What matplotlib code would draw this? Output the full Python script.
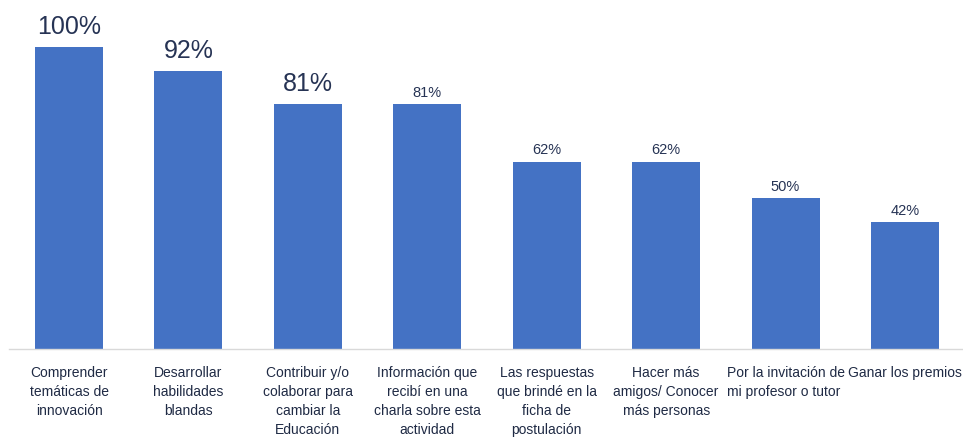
"""Motivos de participación: gráfico de barras con porcentajes."""

import matplotlib
matplotlib.use("Agg")
import matplotlib.pyplot as plt

CATEGORIES = [
    "Comprender\ntemáticas de\ninnovación",
    "Desarrollar\nhabilidades\nblandas",
    "Contribuir y/o\ncolaborar para\ncambiar la\nEducación",
    "Información que\nrecibí en una\ncharla sobre esta\nactividad",
    "Las respuestas\nque brindé en la\nficha de\npostulación",
    "Hacer más\namigos/ Conocer\nmás personas",
    "Por la invitación de\nmi profesor o tutor",
    "Ganar los premios",
]
VALUES = [100, 92, 81, 81, 62, 62, 50, 42]
LABEL_SIZES = [18, 18, 18, 10.5, 10.5, 10.5, 10.5, 10.5]

BAR_COLOR = "#4472C4"
TEXT_COLOR = "#1F2A44"
LABEL_COLOR = "#263354"

plt.rcParams["font.family"] = ["Liberation Sans", "DejaVu Sans"]

fig = plt.figure(figsize=(9.63, 4.39), dpi=100)
ax = fig.add_axes([9.3 / 963, 89 / 439, 955.4 / 963, 302 / 439])

x = list(range(len(VALUES)))
bars = ax.bar(x, VALUES, width=0.57, color=BAR_COLOR, zorder=2)

for rect, val, size in zip(bars, VALUES, LABEL_SIZES):
    offset = 10.0 if size > 12 else 6.0
    ax.annotate(
        f"{val}%",
        xy=(rect.get_x() + rect.get_width() / 2, val),
        xytext=(0, offset),
        textcoords="offset points",
        ha="center",
        va="baseline",
        fontsize=size,
        color=LABEL_COLOR,
        annotation_clip=False,
    )

ax.set_xlim(-0.5, len(VALUES) - 0.5)
ax.set_ylim(0, 100)
ax.set_xticks(x)
ax.set_xticklabels(CATEGORIES, fontsize=10.0, color=TEXT_COLOR, linespacing=1.47)
for i, lbl in enumerate(ax.get_xticklabels()):
    lbl.set_multialignment("left" if i == 6 else "center")
ax.tick_params(axis="x", length=0, pad=11.5)
ax.set_yticks([])

for side in ("top", "right", "left"):
    ax.spines[side].set_visible(False)
ax.spines["bottom"].set_color("#D9D9D9")
ax.spines["bottom"].set_linewidth(1.0)

fig.savefig("out.png", dpi=100)
